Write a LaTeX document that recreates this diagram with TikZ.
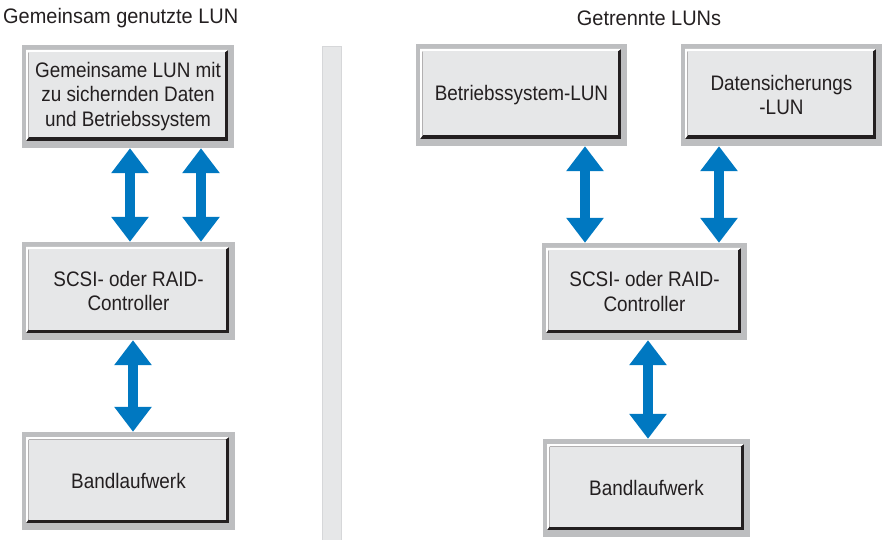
\documentclass[tikz,border=0pt]{standalone}
\usepackage{fontspec}
\setmainfont{Liberation Sans}
\newfontfamily\condfont{Liberation Sans}[FakeStretch=0.9]
\newfontfamily\titlefont{Liberation Sans}[FakeStretch=0.95]
\usetikzlibrary{arrows.meta}
\definecolor{framegrey}{RGB}{189,190,192}
\definecolor{innergrey}{RGB}{230,231,232}
\definecolor{darkedge}{RGB}{35,31,32}
\definecolor{arrowblue}{RGB}{0,120,193}
\definecolor{divgrey}{RGB}{230,231,232}
\definecolor{divedge}{RGB}{214,215,217}
\tikzset{
  box/.style={fill=framegrey, inner sep=0pt, align=center, text=darkedge,
    font=\condfont\fontsize{21}{24.5}\selectfont,
    path picture={
      \fill[darkedge] ([xshift=4pt,yshift=-5pt]path picture bounding box.north west) rectangle ([xshift=-6pt,yshift=7pt]path picture bounding box.south east);
      \fill[white] ([xshift=4pt,yshift=-5pt]path picture bounding box.north west)
        -- ([xshift=-6pt,yshift=-5pt]path picture bounding box.north east)
        -- ([xshift=-9.5pt,yshift=-7.5pt]path picture bounding box.north east)
        -- ([xshift=6.5pt,yshift=-7.5pt]path picture bounding box.north west)
        -- ([xshift=6.5pt,yshift=10.5pt]path picture bounding box.south west)
        -- ([xshift=4pt,yshift=7pt]path picture bounding box.south west) -- cycle;
      \fill[innergrey] ([xshift=6.5pt,yshift=-7.5pt]path picture bounding box.north west) rectangle ([xshift=-9.5pt,yshift=10.5pt]path picture bounding box.south east);
    }},
  dblarrow/.style={draw=arrowblue, line width=10pt,
    {Triangle[width=36pt,length=25pt]}-{Triangle[width=36pt,length=25pt]}},
  title/.style={font=\titlefont\fontsize{21}{24}\selectfont, text=darkedge, inner sep=0pt}
}
\begin{document}
\begin{tikzpicture}[x=1pt,y=-1pt]
\useasboundingbox (0,0) rectangle (884,540);
% titles
\node[title, anchor=west] (t1) at (3,18) {Gemeinsam genutzte LUN};
\node[title] (t2) at (649,18) {Getrennte LUNs};
% divider
\node[fill=divgrey, draw=divedge, line width=0.6pt, minimum width=19pt, minimum height=494pt, inner sep=0pt] (div) at (331.5,293) {};
% left column
\node[box, minimum width=212pt, minimum height=103pt] (A) at (128,96.5) {Gemeinsame LUN mit\\zu sichernden Daten\\und Betriebssystem};
\node[box, minimum width=213pt, minimum height=98pt] (B) at (128.5,291) {SCSI- oder RAID-\\Controller};
\node[box, minimum width=213pt, minimum height=98pt] (C) at (128.5,481) {Bandlaufwerk};
% right column
\node[box, minimum width=211pt, minimum height=102pt] (D) at (521.5,95) {Betriebssystem-LUN};
\node[box, minimum width=201pt, minimum height=102pt] (E) at (781.5,95) {Datensicherungs\\-LUN};
\node[box, minimum width=205pt, minimum height=97pt] (F) at (644.5,291.5) {SCSI- oder RAID-\\Controller};
\node[box, minimum width=207pt, minimum height=98pt] (G) at (646.5,488) {Bandlaufwerk};
% arrows
\draw[dblarrow] (130,0 |- A.south) -- (130,0 |- B.north);
\draw[dblarrow] (201,0 |- A.south) -- (201,0 |- B.north);
\draw[dblarrow] (133,0 |- B.south) -- (133,0 |- C.north);
\draw[dblarrow] (585,0 |- D.south) -- (585,0 |- F.north);
\draw[dblarrow] (719,0 |- E.south) -- (719,0 |- F.north);
\draw[dblarrow] (648,0 |- F.south) -- (648,0 |- G.north);
\end{tikzpicture}
\end{document}
